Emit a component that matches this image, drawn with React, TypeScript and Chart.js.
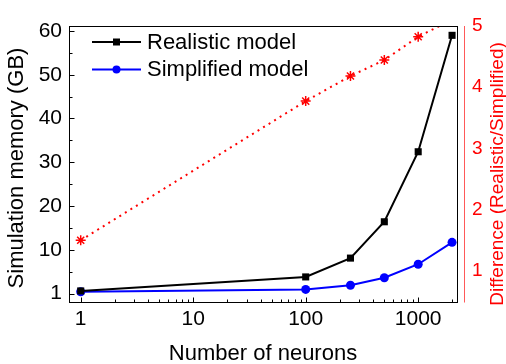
import React, { useEffect, useRef } from 'react';
import { Chart, registerables } from 'chart.js';

Chart.register(...registerables);

const neurons = [1, 100, 250, 500, 1000, 2000];
const realistic = [0.6, 3.8, 8.1, 16.4, 32.4, 59];
const simplified = [0.4, 0.95, 1.9, 3.6, 6.7, 11.7];
const ratio = [1.5, 3.77, 4.18, 4.44, 4.82, 5.1];

const xTicks = [1, 10, 100, 1000];
const yTicks = [0, 10, 20, 30, 40, 50, 60];
const yTickLabels = ['1', '10', '20', '30', '40', '50', '60'];
const y2Ticks = [1, 2, 3, 4, 5];

const seriesNames = ['Realistic model', 'Simplified model', 'Difference'];
const xTitle = 'Number of neurons';
const yTitle = 'Simulation memory (GB)';
const y2Title = 'Difference (Realistic/Simplified)';

const FONT = "'Liberation Sans', Arial, sans-serif";

const decorPlugin = {
  id: 'decor',
  afterDraw(chart: any) {
    const { ctx, chartArea: a, scales } = chart;
    const xs = scales.x;
    const ys = scales.y;
    ctx.save();
    // frame
    ctx.strokeStyle = '#000';
    ctx.lineWidth = 1;
    const L = Math.round(a.left) + 0.5;
    const R = Math.round(a.right) + 0.5;
    const T = Math.round(a.top) + 0.5;
    const B = Math.round(a.bottom) + 0.5;
    ctx.strokeRect(L, T, R - L, B - T);

    // x ticks (inward)
    ctx.beginPath();
    const xMax = xs.max;
    for (let d = 1; d <= 1000; d *= 10) {
      for (let m = 1; m <= 9; m++) {
        const v = m * d;
        if (v < xs.min || v > xMax) continue;
        const px = Math.round(xs.getPixelForValue(v)) + 0.5;
        const len = m === 1 ? 5 : 3;
        ctx.moveTo(px, B);
        ctx.lineTo(px, B - len);
      }
    }
    // y ticks (inward)
    for (let v = 0; v <= 60; v += 5) {
      const py = Math.round(ys.getPixelForValue(v)) + 0.5;
      const len = v % 10 === 0 ? 5 : 3;
      ctx.moveTo(L, py);
      ctx.lineTo(L + len, py);
    }
    ctx.stroke();

    // red right axis line
    ctx.strokeStyle = 'rgba(255,60,60,0.85)';
    ctx.beginPath();
    ctx.moveTo(R + 7, T - 0.5);
    ctx.lineTo(R + 7, B);
    ctx.stroke();

    // titles
    ctx.fillStyle = '#000';
    ctx.textBaseline = 'middle';
    ctx.textAlign = 'center';
    ctx.font = `22px ${FONT}`;
    ctx.fillText(chart.options.scales.x.title.text, (a.left + a.right) / 2, 354);
    ctx.save();
    ctx.translate(16.5, 168);
    ctx.rotate(-Math.PI / 2);
    ctx.fillText(chart.options.scales.y.title.text, 0, 0);
    ctx.restore();
    ctx.save();
    ctx.fillStyle = '#ff0000';
    ctx.font = `19px ${FONT}`;
    ctx.translate(498, 174);
    ctx.rotate(-Math.PI / 2);
    ctx.fillText(chart.options.scales.y2.title.text, 0, 0);
    ctx.restore();

    // legend
    const ds = chart.data.datasets;
    const rows = [42, 69.5];
    for (let i = 0; i < 2; i++) {
      const d = ds[i];
      const yy = rows[i];
      ctx.strokeStyle = d.borderColor;
      ctx.lineWidth = 2;
      ctx.beginPath();
      ctx.moveTo(92, yy);
      ctx.lineTo(141, yy);
      ctx.stroke();
      ctx.fillStyle = d.pointBackgroundColor;
      if (d.pointStyle === 'rect') {
        ctx.fillRect(116.5 - 3.5, yy - 3.5, 7, 7);
      } else {
        ctx.beginPath();
        ctx.arc(116.5, yy, 4, 0, Math.PI * 2);
        ctx.fill();
      }
      ctx.fillStyle = '#000';
      ctx.textAlign = 'left';
      ctx.font = `22px ${FONT}`;
      ctx.fillText(d.label, 147, yy + 0.5);
    }
    ctx.restore();
  },
};

export default function App() {
  const ref = useRef<HTMLCanvasElement | null>(null);

  useEffect(() => {
    if (!ref.current) return;
    const pts = (ys: number[]) => neurons.map((x, i) => ({ x, y: ys[i] }));
    const chart = new Chart(ref.current, {
      type: 'line',
      data: {
        datasets: [
          {
            label: seriesNames[0],
            data: pts(realistic),
            borderColor: '#000000',
            backgroundColor: '#000000',
            pointBackgroundColor: '#000000',
            pointBorderColor: '#000000',
            pointStyle: 'rect',
            pointRadius: 5,
            pointBorderWidth: 0,
            borderWidth: 2,
            yAxisID: 'y',
            clip: false,
          } as any,
          {
            label: seriesNames[1],
            data: pts(simplified),
            borderColor: '#0000ff',
            backgroundColor: '#0000ff',
            pointBackgroundColor: '#0000ff',
            pointBorderColor: '#0000ff',
            pointStyle: 'circle',
            pointRadius: 4.5,
            pointBorderWidth: 0,
            borderWidth: 2,
            yAxisID: 'y',
            clip: false,
          } as any,
          {
            label: seriesNames[2],
            data: pts(ratio),
            borderColor: '#ff0000',
            backgroundColor: '#ff0000',
            pointBackgroundColor: '#ff0000',
            pointBorderColor: '#ff0000',
            pointStyle: 'star',
            pointRadius: 5,
            pointBorderWidth: 1.5,
            borderWidth: 2,
            borderDash: [2, 4.5],
            yAxisID: 'y2',
            clip: 0,
          } as any,
        ],
      },
      options: {
        responsive: false,
        animation: false,
        devicePixelRatio: 1,
        layout: { padding: { top: 18, left: 0, right: 0, bottom: 0 } },
        plugins: { legend: { display: false }, tooltip: { enabled: false } },
        elements: { line: { tension: 0 } },
        scales: {
          x: {
            type: 'logarithmic',
            position: 'bottom',
            min: 0.787,
            max: 2213,
            grid: { display: false, drawTicks: false },
            border: { display: false },
            title: { display: false, text: xTitle },
            afterBuildTicks: (s: any) => {
              s.ticks = xTicks.map((v) => ({ value: v }));
            },
            afterFit: (s: any) => {
              s.height = 62;
            },
            ticks: {
              autoSkip: false,
              maxRotation: 0,
              padding: 5,
              color: '#000',
              font: { family: FONT, size: 21 },
              callback: (v: any) => String(v),
            },
          },
          y: {
            type: 'linear',
            position: 'left',
            min: -1.93,
            max: 61.04,
            grid: { display: false, drawTicks: false },
            border: { display: false },
            title: { display: false, text: yTitle },
            afterBuildTicks: (s: any) => {
              s.ticks = yTicks.map((v) => ({ value: v }));
            },
            afterFit: (s: any) => {
              s.width = 69;
            },
            ticks: {
              padding: 7,
              color: '#000',
              font: { family: FONT, size: 21 },
              callback: (v: any) => yTickLabels[yTicks.indexOf(v)] ?? '',
            },
          },
          y2: {
            type: 'linear',
            position: 'right',
            min: 0.493,
            max: 4.989,
            grid: { display: false, drawTicks: false },
            border: { display: false },
            title: { display: false, text: y2Title },
            afterBuildTicks: (s: any) => {
              s.ticks = y2Ticks.map((v) => ({ value: v }));
            },
            afterFit: (s: any) => {
              s.width = 49;
            },
            ticks: {
              padding: 15,
              color: '#ff0000',
              font: { family: FONT, size: 19 },
              callback: (v: any) => String(v),
            },
          },
        },
      } as any,
      plugins: [decorPlugin],
    });
    return () => chart.destroy();
  }, []);

  return (
    <div style={{ position: 'fixed', left: 0, top: 0, width: 506, height: 364, background: '#fff' }}>
      <canvas ref={ref} width={506} height={364} style={{ width: 506, height: 364, display: 'block' }} />
    </div>
  );
}
